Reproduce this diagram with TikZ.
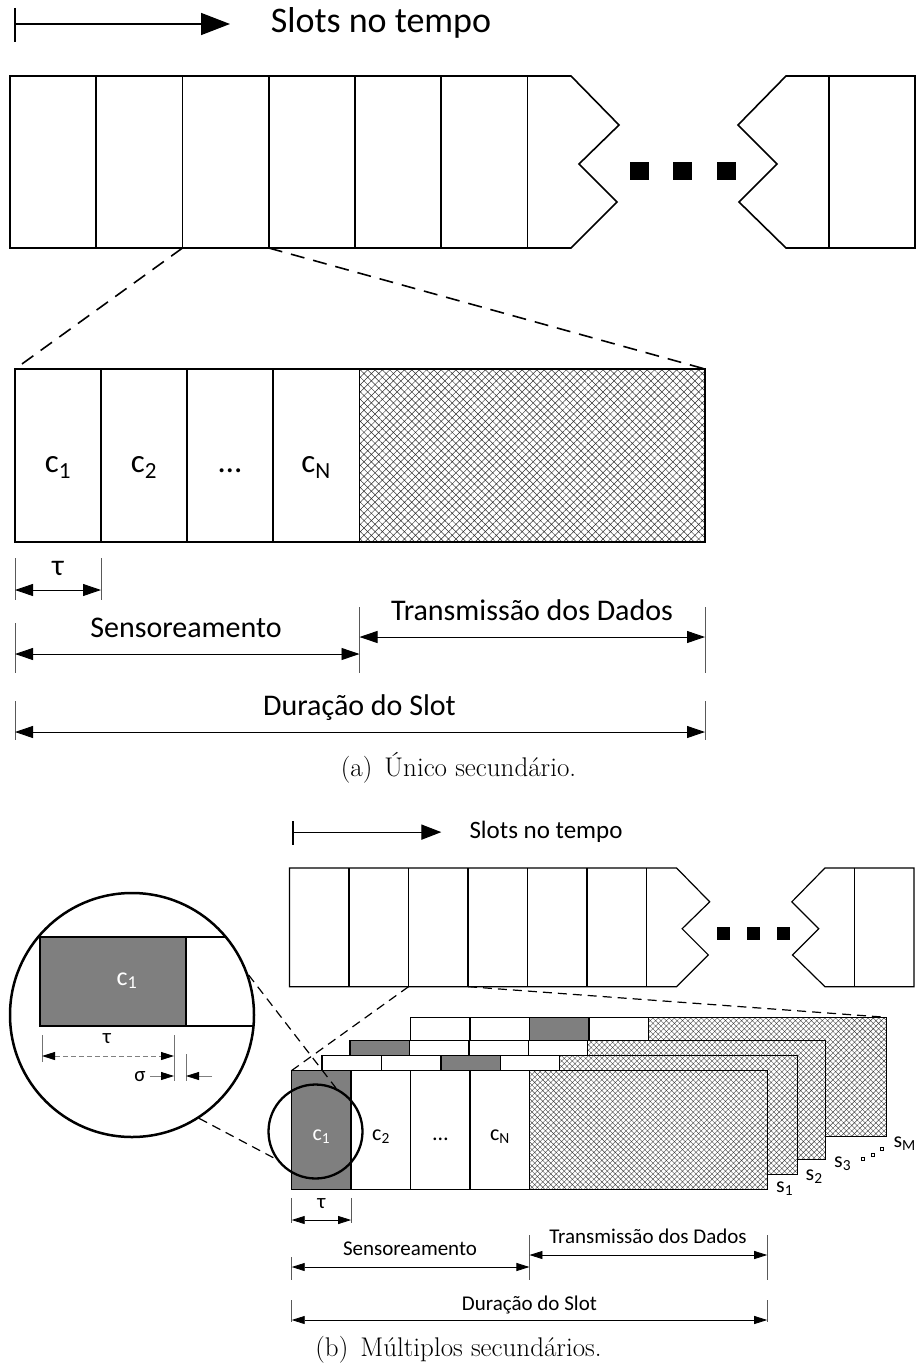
\documentclass[tikz,border=0pt]{standalone}
\usepackage{fontspec}
\newfontfamily\carl{Carlito}
\usetikzlibrary{arrows.meta,patterns.meta}
\definecolor{cellgray}{RGB}{127,127,127}
\tikzset{
 labA/.style={font=\carl\fontsize{30}{36}\selectfont, inner sep=0pt, anchor=base},
 cellA/.style={font=\carl\fontsize{33}{40}\selectfont, inner sep=0pt, anchor=base},
 labB/.style={font=\carl\fontsize{21}{25}\selectfont, inner sep=0pt, anchor=base},
 cellB/.style={font=\carl\fontsize{22}{26}\selectfont, inner sep=0pt, anchor=base},
 capt/.style={font=\fontsize{27}{32}\selectfont, inner sep=0pt, anchor=base},
 tickA/.style={line width=0.9pt, black!65},
 dimA/.style={line width=0.9pt, {Triangle[length=18pt,width=12pt]}-{Triangle[length=18pt,width=12pt]}},
 tickB/.style={line width=0.8pt, black!65},
 dimB/.style={line width=0.8pt, {Triangle[length=13pt,width=8pt]}-{Triangle[length=13pt,width=8pt]}},
 zoomA/.style={line width=1.6pt, dash pattern=on 14pt off 9pt},
 zoomB/.style={line width=1.2pt, dash pattern=on 9pt off 6pt},
 hatchA/.style={pattern={Hatch[angle=45,distance=5.2pt,line width=0.5pt]}, pattern color=black!80},
 hatchB/.style={pattern={Hatch[angle=45,distance=3.8pt,line width=0.4pt]}, pattern color=black!75},
}
% #1 x, #2 y, #3 scale, #4 font size, #5 prefix, #6 line width
\newcommand\timeline[6]{%
\begin{scope}[shift={(#1,#2)}, scale=#3, line width=#6]
  \draw[line join=miter] (0,0) -- (561,0) -- (609,49) -- (569,88) -- (607,126) -- (561,172) -- (0,172) -- cycle;
  \foreach \x in {86.25,172.5,258.75,345,431.25,517.5} \draw (\x,0) -- (\x,172);
  \draw[line join=miter] (776,0) -- (728,49) -- (767,88) -- (729,126) -- (776,172) -- (905,172) -- (905,0) -- cycle;
  \draw (819,0) -- (819,172);
  \foreach \x in {629.5,672.5,716} \fill (\x-9.5,86) rectangle (\x+9.5,104);
  \coordinate (#5-l) at (172.5,172);
  \coordinate (#5-r) at (258.75,172);
  \coordinate (#5-s) at (5,-52);
  \coordinate (#5-e) at (220,-52);
  \draw (5,-68) -- (5,-34);
  \draw[-{Triangle[length=29pt,width=22pt,scale=#3]}] (#5-s) -- (#5-e);
  \node[anchor=base west, inner sep=0pt, font=\carl\fontsize{#4}{#4}\selectfont] (#5-title) at (260,-43) {Slots no tempo};
\end{scope}}
% #1 name, #2 L, #3 T, #4-#7 cell fills
\newcommand\stackframe[7]{%
\begin{scope}[shift={(#2,#3)}, line width=1.3pt]
  \fill[white] (0,0) rectangle (475.5,119);
  \fill[hatchB] (237.75,0) rectangle (475.5,119);
  \filldraw[fill=#4] (0,0) rectangle (59.44,119);
  \filldraw[fill=#5] (59.44,0) rectangle (118.88,119);
  \filldraw[fill=#6] (118.88,0) rectangle (178.31,119);
  \filldraw[fill=#7] (178.31,0) rectangle (237.75,119);
  \draw (0,0) rectangle (475.5,119);
  \coordinate (#1-tl) at (0,0);
  \coordinate (#1-tr) at (475.5,0);
\end{scope}}
\begin{document}
\begin{tikzpicture}[x=1pt,y=-1pt]
\useasboundingbox (0,0) rectangle (917,1370);
\fill[white] (0,0) rectangle (917,1370);

% ================= (a) =================
\timeline{10}{76}{1}{36}{ta}{1.6pt}
\coordinate (da-tl) at (15,369);
\coordinate (da-tr) at (705,369);
\begin{scope}[line width=1.6pt]
  \fill[hatchA] (359.5,369) rectangle (705,542);
  \draw (da-tl) rectangle (705,542);
  \foreach \x in {101,187,273,359.5} \draw (\x,369) -- (\x,542);
\end{scope}
\draw[zoomA] (ta-l) -- (da-tl);
\draw[zoomA] (ta-r) -- (da-tr);
\node[cellA] (a-c1) at (58,472) {c\textsubscript{1}};
\node[cellA] (a-c2) at (144,472) {c\textsubscript{2}};
\node[cellA] (a-cd) at (230,472) {…};
\node[cellA] (a-cn) at (316,472) {c\textsubscript{N}};
% tau
\draw[tickA] (15,558) -- (15,600);
\draw[tickA] (101,558) -- (101,600);
\draw[dimA] (15,590) -- (101,590);
\node[labA] (a-tau) at (58,575) {τ};
% sensing / transmission
\draw[tickA] (15,623) -- (15,673);
\draw[tickA] (359.5,607) -- (359.5,673);
\draw[tickA] (705,607) -- (705,673);
\draw[dimA] (15,654) -- (359.5,654);
\draw[dimA] (359.5,637) -- (705,637);
\node[labA] (a-sens) at (186,637) {Sensoreamento};
\node[labA] (a-tx) at (532,620) {Transmissão dos Dados};
% slot
\draw[tickA] (15,701) -- (15,740);
\draw[tickA] (705,701) -- (705,740);
\draw[dimA] (15,732) -- (705,732);
\node[labA] (a-slot) at (359.5,715) {Duração do Slot};
\node[capt] (capa) at (458.5,776) {(a)\hspace{0.45em}Único secundário.};

% ================= (b) =================
\timeline{289.5}{868}{0.69}{25}{tb}{1.2pt}

% magnifier
\begin{scope}
  \clip (132,1015) circle[radius=122];
  \filldraw[fill=white, line width=1.4pt] (186,937) rectangle (330,1026);
  \filldraw[fill=cellgray, line width=1.4pt] (40,937) rectangle (186,1026);
\end{scope}
\node[cellB, white, font=\carl\fontsize{26}{30}\selectfont] (z-c1) at (127,985) {c\textsubscript{1}};
\draw[tickB, black!55] (42,1035) -- (42,1062);
\draw[tickB, black!55] (174,1035) -- (174,1081);
\draw[tickB, black!55] (186,1054) -- (186,1081);
\draw[line width=0.9pt, black!50, dash pattern=on 5pt off 3pt,
  {Triangle[length=13pt,width=8pt,color=black]}-{Triangle[length=13pt,width=8pt,color=black]}] (42,1056) -- (174,1056);
\node[labB] (z-tau) at (107,1043) {τ};
\node[labB] (z-sig) at (140,1081) {σ};
\draw[line width=0.8pt, black!50, -{Triangle[length=13pt,width=8pt,color=black]}] (150,1076) -- (174,1076);
\draw[line width=0.8pt, black!50, -{Triangle[length=13pt,width=8pt,color=black]}] (212,1076) -- (186,1076);
\node[circle, draw, line width=2.5pt, minimum size=244pt, inner sep=0pt] (zoomc) at (132,1015) {};

% stacked frames
\stackframe{sM}{410.7}{1017.3}{white}{white}{cellgray}{white}
\stackframe{s3}{350}{1040.7}{cellgray}{white}{white}{white}
\stackframe{s2}{322}{1055.7}{white}{white}{cellgray}{white}
\stackframe{s1}{291.7}{1070.5}{cellgray}{white}{white}{white}
\node[cellB, white] (b-c1) at (321.4,1140) {c\textsubscript{1}};
\node[cellB] (b-c2) at (381,1140) {c\textsubscript{2}};
\node[cellB] (b-cd) at (440.5,1140) {…};
\node[cellB] (b-cn) at (500,1140) {c\textsubscript{N}};
\node[cellB, anchor=base west] (lab-s1) at (776,1192) {s\textsubscript{1}};
\node[cellB, anchor=base west] (lab-s2) at (805.5,1180) {s\textsubscript{2}};
\node[cellB, anchor=base west] (lab-s3) at (834,1167) {s\textsubscript{3}};
\node[cellB, anchor=base west] (lab-sM) at (893.4,1147) {s\textsubscript{M}};
\foreach \px/\py in {863/1159,872.5/1155,882/1149}
  \draw[line width=0.7pt] (\px-1.6,\py-1.6) rectangle (\px+1.6,\py+1.6);
\node[circle, draw, line width=2.3pt, minimum size=94pt, inner sep=0pt] (smallc) at (315.5,1131.5) {};

% zoom lines
\draw[zoomB] (tb-l) -- (s1-tl);
\draw[zoomB] (tb-r) -- (sM-tr);
\draw[zoomB] (zoomc.19) -- (smallc.65);
\draw[zoomB] (zoomc.303) -- (smallc.215);

% dimensions (b)
\draw[tickB] (291.7,1198) -- (291.7,1223);
\draw[tickB] (351.1,1198) -- (351.1,1223);
\draw[dimB] (291.7,1220) -- (351.1,1220);
\node[labB] (b-tau) at (321.4,1208) {τ};
\draw[tickB] (291.7,1257) -- (291.7,1280);
\draw[tickB] (529.45,1235) -- (529.45,1280);
\draw[tickB] (767.2,1235) -- (767.2,1280);
\draw[dimB] (291.7,1267) -- (529.45,1267);
\draw[dimB] (529.45,1255) -- (767.2,1255);
\node[labB] (b-sens) at (410,1255) {Sensoreamento};
\node[labB] (b-tx) at (648,1243) {Transmissão dos Dados};
\draw[tickB] (291.7,1300) -- (291.7,1322);
\draw[tickB] (767.2,1300) -- (767.2,1322);
\draw[dimB] (291.7,1320) -- (767.2,1320);
\node[labB] (b-slot) at (529.45,1310) {Duração do Slot};
\node[capt] (capb) at (458.5,1356) {(b)\hspace{0.45em}Múltiplos secundários.};
\end{tikzpicture}
\end{document}
